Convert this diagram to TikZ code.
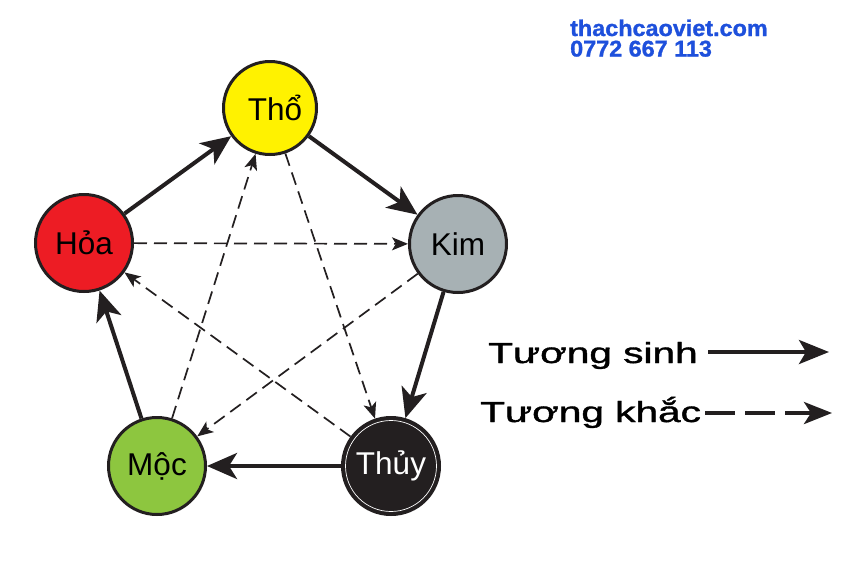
\documentclass[tikz,border=0pt]{standalone}
\usepackage{fontspec}
\setmainfont{Liberation Sans}
\newfontfamily\legfont[FakeBold=1.2]{Liberation Sans}
\newfontfamily\webfont[FakeBold=1.2]{Liberation Sans Bold}
\usetikzlibrary{arrows.meta}
\definecolor{ink}{RGB}{35,31,32}
\definecolor{thoY}{RGB}{255,242,0}
\definecolor{hoaR}{RGB}{237,28,36}
\definecolor{kimG}{RGB}{167,177,180}
\definecolor{thuyB}{RGB}{35,31,32}
\definecolor{mocG}{RGB}{141,198,63}
\definecolor{web}{RGB}{30,80,220}
\begin{document}
\begin{tikzpicture}[x=1pt,y=-1pt,
  elem/.style={circle,draw=ink,line width=3pt,minimum size=97pt,inner sep=0pt,
    font=\fontsize{31.5}{34}\selectfont},
  sinh/.style={line width=4pt,draw=ink,-{Stealth[length=30pt,width=26pt,inset=8pt]}},
  khac/.style={line width=1.7pt,draw=ink,dash pattern=on 13pt off 7pt,
    -{Stealth[length=16pt,width=13pt,inset=4pt]}},
  legtext/.style={anchor=base west,inner sep=0pt,font=\fontsize{29}{32}\legfont},
  webtext/.style={anchor=base west,inner sep=0pt,text=web,font=\fontsize{22.7}{25}\webfont},
]
\useasboundingbox[fill=white] (0,0) rectangle (852,574);

% website
\node[webtext] (w1) at (570,36) {\scalebox{1.03}[1]{thachcaoviet.com}};
\node[webtext] (w2) at (570,56.5) {\scalebox{1.03}[1]{0772 667 113}};

% elements
\node[elem,fill=thoY,minimum size=93pt] (tho) at (270,108) {\hspace*{10pt}Thổ};
\node[elem,fill=hoaR] (hoa) at (84,243) {Hỏa};
\node[elem,fill=kimG] (kim) at (458,244) {Kim};
\node[elem,fill=thuyB,text=white] (thuy) at (391,466) {Thủy};
\node[elem,fill=mocG] (moc) at (157,466) {Mộc};
\draw[white,line width=0.7pt] (thuy.center) circle[radius=45.5pt];

% tuong sinh
\draw[sinh] (hoa) -- (tho);
\draw[sinh] (tho) -- (kim);
\draw[sinh] (kim) -- (thuy);
\draw[sinh] (thuy) -- (moc);
\draw[sinh] (moc) -- (hoa);

% tuong khac
\draw[khac] (hoa) -- (kim);
\draw[khac] (kim) -- (moc);
\draw[khac] (moc) -- (tho);
\draw[khac] (tho) -- (thuy);
\draw[khac] (thuy) -- (hoa);

% legend
\node[legtext] (ls) at (488,363) {\scalebox{1.40}[1]{Tương sinh}};
\node[legtext] (lk) at (480,422) {\scalebox{1.40}[1]{Tương khắc}};
\coordinate (ls1) at (708,352);
\coordinate (ls2) at (829,352);
\coordinate (lk1) at (705,413);
\coordinate (lk2) at (832,413);
\draw[line width=4pt,draw=ink,-{Stealth[length=30pt,width=24pt,inset=7pt]}] (ls1) -- (ls2);
\draw[line width=4pt,draw=ink,dash pattern=on 30pt off 10pt,
  -{Stealth[length=28pt,width=22pt,inset=7pt]}] (lk1) -- (lk2);
\end{tikzpicture}
\end{document}
